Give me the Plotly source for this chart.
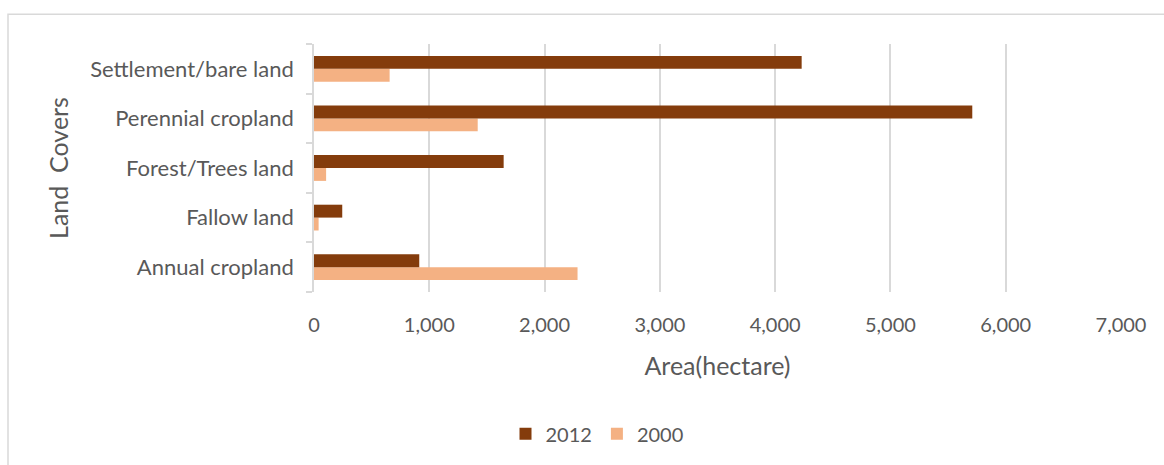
import plotly.graph_objects as go

# Land cover categories, listed bottom to top as drawn on the axis
categories = ["Annual cropland", "Fallow land", "Forest/Trees land",
              "Perennial cropland", "Settlement/bare land"]
area_2012 = [913, 245, 1645, 5710, 4230]
area_2000 = [2286, 40, 105, 1420, 656]
x_ticks = [0, 1000, 2000, 3000, 4000, 5000, 6000, 7000]

FONT = "Lato"
TEXT = "#595959"
GRID = "#D9D9D9"

fig = go.Figure()
fig.add_trace(go.Bar(y=categories, x=area_2000, name="2000", orientation="h",
                     marker=dict(color="#F4B183", line=dict(width=0))))
fig.add_trace(go.Bar(y=categories, x=area_2012, name="2012", orientation="h",
                     marker=dict(color="#843C0C", line=dict(width=0))))

W, H = 1164, 465
L, R, T, B = 314, 43, 44, 171
pw, ph = W - L - R, H - T - B

def px_x(p):
    return (p - L) / pw

def px_y(p):
    return (H - B - p) / ph

fig.update_layout(
    width=W, height=H,
    margin=dict(l=L, r=R, t=T, b=B, pad=0),
    paper_bgcolor="white", plot_bgcolor="white",
    barmode="group", bargap=0.48, bargroupgap=0,
    font=dict(family=FONT, color=TEXT, size=20),
    showlegend=True,
    legend=dict(orientation="h", traceorder="reversed",
                x=px_x(597), y=px_y(437), xanchor="center", yanchor="middle",
                font=dict(size=20, color=TEXT), itemwidth=30,
                bgcolor="rgba(0,0,0,0)"),
    xaxis=dict(range=[0, 7000], tickvals=x_ticks, tickformat=",",
               showgrid=True, gridcolor=GRID, gridwidth=1.5,
               zeroline=False, showline=False, ticks="",
               ticklabelstandoff=19,
               tickfont=dict(size=20, color=TEXT),
               title=dict(text="Area(hectare)", font=dict(size=25, color=TEXT),
                          standoff=22)),
    yaxis=dict(categoryorder="array", categoryarray=categories,
               showgrid=False, zeroline=False,
               showline=True, linecolor=GRID, linewidth=1.5,
               ticks="outside", tickson="boundaries", ticklen=6,
               tickcolor=GRID, tickwidth=1.5,
               ticklabelstandoff=14,
               tickfont=dict(size=22, color=TEXT),
               title=dict(text="Land  Covers", font=dict(size=25, color=TEXT),
                          standoff=14)),
    shapes=[dict(type="rect", xref="paper", yref="paper",
                 x0=px_x(8), x1=px_x(1200), y0=px_y(500), y1=px_y(14),
                 line=dict(color=GRID, width=1.5), fillcolor="rgba(0,0,0,0)",
                 layer="below")],
)

fig.write_html("out.html")
